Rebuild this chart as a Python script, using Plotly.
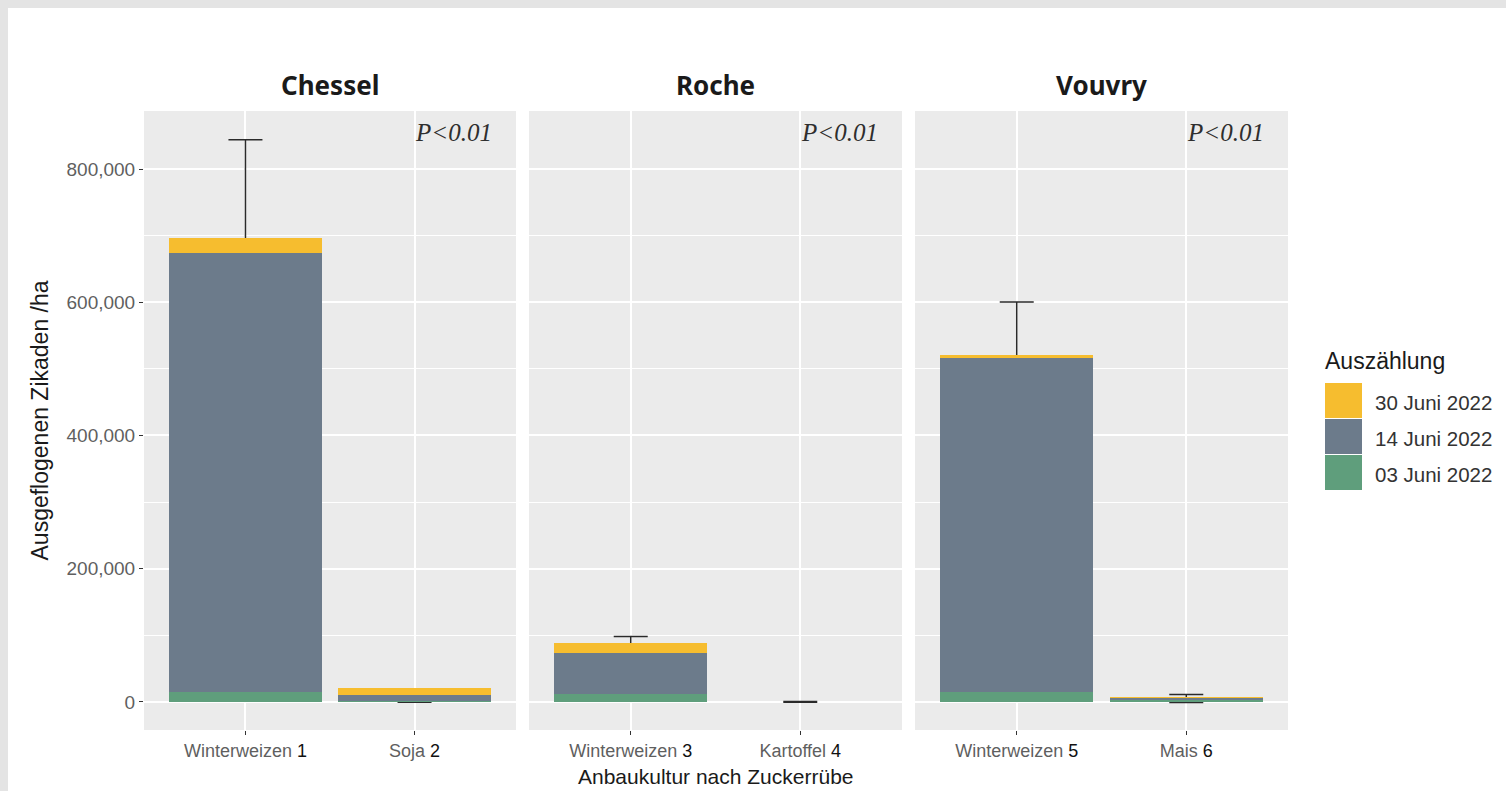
import plotly.graph_objects as go

# ---------------- data ----------------
panels = ["Chessel", "Roche", "Vouvry"]
crops = [["Winterweizen", "Soja"], ["Winterweizen", "Kartoffel"], ["Winterweizen", "Mais"]]
crop_numbers = [["1", "2"], ["3", "4"], ["5", "6"]]
series_names = ["03 Juni 2022", "14 Juni 2022", "30 Juni 2022"]
series_colors = ["#5f9e7c", "#6c7b8b", "#f6bd2f"]
juni03 = [[14500, 1500], [12500, 0], [14500, 4000]]
juni14 = [[660000, 9000], [61500, 0], [502000, 2500]]
juni30 = [[21500, 11000], [15000, 0], [4000, 500]]
err_center = [[696000, 0], [89000, 0], [520500, 5000]]
err_sd = [[148000, 500], [9000, 500], [80000, 6000]]
p_labels = ["P<0.01", "P<0.01", "P<0.01"]
y_ticks = [0, 200000, 400000, 600000, 800000]
y_minor = [100000, 300000, 500000, 700000]
y_range = [-42250, 887250]
y_title = "Ausgeflogenen Zikaden /ha"
x_title = "Anbaukultur nach Zuckerrübe"
legend_title = "Auszählung"

# ---------------- geometry (pixels) ----------------
FW, FH = 1506, 791
L, R, T, B = 144, 218, 111, 61
PW, PH = FW - L - R, FH - T - B
panel_px = [(144, 516), (529, 902), (915, 1288)]


def px_x(p):
    return (p - L) / PW


def px_y(p):
    return (FH - B - p) / PH


series_values = [juni03, juni14, juni30]
fig = go.Figure()

axis_names = ["x", "x2", "x3"]
yaxis_names = ["y", "y2", "y3"]      # base axes: gridlines + error bars (drawn below)
ybar_names = ["y4", "y5", "y6"]      # overlay axes: bars drawn on top

for i, panel in enumerate(panels):
    cats = [f"{c} {n}" for c, n in zip(crops[i], crop_numbers[i])]
    fig.add_trace(go.Scatter(
        x=cats, y=err_center[i], mode="markers",
        marker=dict(size=1, color="rgba(0,0,0,0)"),
        error_y=dict(type="data", symmetric=True, array=err_sd[i],
                     color="#2a2a2a", thickness=1.5, width=17),
        xaxis=axis_names[i], yaxis=yaxis_names[i],
        showlegend=False, hoverinfo="skip",
    ))
    for s, (name, color) in enumerate(zip(series_names, series_colors)):
        fig.add_trace(go.Bar(
            x=cats, y=series_values[s][i], name=name,
            marker=dict(color=color, line=dict(width=0)),
            width=0.9, xaxis=axis_names[i], yaxis=ybar_names[i],
            showlegend=False, hoverinfo="skip",
        ))

ytick_font = dict(family="Liberation Sans, Arial, sans-serif", size=19, color="#5f5f5f")
xtick_font = dict(family="Liberation Sans, Arial, sans-serif", size=18, color="#5f5f5f")

layout = dict(
    width=FW, height=FH,
    margin=dict(l=L, r=R, t=T, b=B, pad=0),
    paper_bgcolor="white",
    plot_bgcolor="#ebebeb",
    barmode="stack",
    showlegend=False,
    font=dict(family="Liberation Sans, Arial, sans-serif", color="#1a1a1a"),
)

for i in range(3):
    cats = [f"{c} {n}" for c, n in zip(crops[i], crop_numbers[i])]
    ttext = [f"{c} <span style='color:#111111'>{n}</span>" for c, n in zip(crops[i], crop_numbers[i])]
    key = "xaxis" if i == 0 else f"xaxis{i + 1}"
    d0 = (panel_px[i][0] - L) / PW
    d1 = (panel_px[i][1] - L) / PW
    layout[key] = dict(
        domain=[d0, min(d1, 1.0)], type="category",
        categoryorder="array", categoryarray=cats,
        range=[-0.6, 1.6], anchor=yaxis_names[i],
        tickmode="array", tickvals=cats, ticktext=ttext,
        showgrid=True, gridcolor="white", gridwidth=1.8,
        ticks="outside", ticklen=4, tickcolor="#333333", tickwidth=1,
        tickfont=xtick_font, ticklabelstandoff=0,
        showline=False, zeroline=False, fixedrange=True,
    )
    ykey = "yaxis" if i == 0 else f"yaxis{i + 1}"
    ydict = dict(
        range=y_range, anchor=axis_names[i],
        tickmode="array", tickvals=y_ticks,
        ticktext=[f"{v:,}" for v in y_ticks],
        showgrid=True, gridcolor="white", gridwidth=1.8,
        minor=dict(tickvals=y_minor, showgrid=True, gridcolor="white",
                   gridwidth=0.9, ticks=""),
        zeroline=False, showline=False, fixedrange=True,
        tickfont=ytick_font,
    )
    if i == 0:
        ydict.update(ticks="outside", ticklen=4, tickcolor="#333333", tickwidth=1,
                     showticklabels=True)
    else:
        ydict.update(ticks="", showticklabels=False)
    layout[ykey] = ydict
    layout[f"yaxis{i + 4}"] = dict(
        range=y_range, overlaying=yaxis_names[i], anchor=axis_names[i],
        showgrid=False, zeroline=False, showline=False, ticks="",
        showticklabels=False, fixedrange=True,
    )

fig.update_layout(**layout)

annotations = []
for i, panel in enumerate(panels):
    xr = "x domain" if i == 0 else f"x{i + 1} domain"
    annotations.append(dict(
        text=f"<b>{panel}</b>", xref=xr, x=0.5, yref="paper", y=px_y(85),
        xanchor="center", yanchor="middle", showarrow=False,
        font=dict(family="Noto Sans, DejaVu Sans, sans-serif", size=26, color="#1a1a1a"),
    ))
    annotations.append(dict(
        text=p_labels[i], xref=xr, x=0.94, yref="paper", y=px_y(133),
        xanchor="right", yanchor="middle", showarrow=False,
        font=dict(family="Liberation Serif, Times New Roman, serif", size=25,
                  style="italic", color="#2e2e2e"),
    ))

annotations.append(dict(
    text=x_title, xref="paper", x=0.5, yref="paper", y=px_y(777),
    xanchor="center", yanchor="middle", showarrow=False,
    font=dict(family="Liberation Sans, Arial, sans-serif", size=21, color="#1a1a1a"),
))
annotations.append(dict(
    text=y_title, xref="paper", x=px_x(39), yref="paper", y=0.5,
    xanchor="center", yanchor="middle", showarrow=False, textangle=-90,
    font=dict(family="Liberation Sans, Arial, sans-serif", size=23, color="#1a1a1a"),
))

# frame bands at top and left (as in the reference screenshot)
shapes = [
    dict(type="rect", xref="paper", yref="paper", x0=px_x(0), x1=px_x(8),
         y0=px_y(FH), y1=px_y(0), fillcolor="#e4e4e4", line=dict(width=0), layer="below"),
    dict(type="rect", xref="paper", yref="paper", x0=px_x(0), x1=px_x(FW),
         y0=px_y(8), y1=px_y(0), fillcolor="#e4e4e4", line=dict(width=0), layer="below"),
]

# manual legend (ggplot-like large keys)
annotations.append(dict(
    text=legend_title, xref="paper", x=px_x(1323), yref="paper", y=px_y(361),
    xanchor="left", yanchor="middle", showarrow=False,
    font=dict(family="Liberation Sans, Arial, sans-serif", size=23, color="#1a1a1a"),
))
key_top = 383
key_h = 36
order = [2, 1, 0]  # legend top-to-bottom: 30 Juni, 14 Juni, 03 Juni
for k, s in enumerate(order):
    y0p = key_top + k * key_h
    shapes.append(dict(
        type="rect", xref="paper", yref="paper",
        x0=px_x(1325), x1=px_x(1362), y0=px_y(y0p + key_h - 1), y1=px_y(y0p),
        fillcolor=series_colors[s], line=dict(width=0),
    ))
    annotations.append(dict(
        text=series_names[s], xref="paper", x=px_x(1373), yref="paper",
        y=px_y(y0p + key_h / 2 + 1), xanchor="left", yanchor="middle", showarrow=False,
        font=dict(family="Liberation Sans, Arial, sans-serif", size=20.5, color="#333333"),
    ))

fig.update_layout(annotations=annotations, shapes=shapes)

fig.write_html(
    "out.html",
    config={"displayModeBar": False},
    post_script="document.body.style.margin='0';document.body.style.overflow='hidden';",
)
